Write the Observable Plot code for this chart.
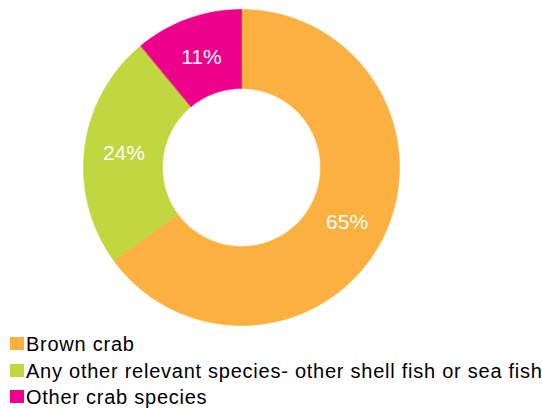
<!DOCTYPE html>
<html>
<head>
<meta charset="utf-8">
<script src="https://cdn.jsdelivr.net/npm/d3@7"></script>
<script src="https://cdn.jsdelivr.net/npm/@observablehq/plot@0.6"></script>
<style>
  html, body { margin: 0; padding: 0; background: #fff; }
  body { width: 542px; height: 409px; overflow: hidden; font-family: "Liberation Sans", Arial, sans-serif; }
  #chart svg { display: block; }
  #legend { margin-top: 1px; }
  .row { position: relative; height: 26.7px; font-size: 20px; line-height: 26.7px; color: #000; white-space: nowrap; letter-spacing: 0.75px; }
  .sw { position: absolute; left: 10px; top: 6px; width: 14px; height: 13px; }
  .lab { position: absolute; left: 26px; top: 0; }
</style>
</head>
<body>
<div id="chart"></div>
<div id="legend"></div>
<script>
const categories = ["Brown crab", "Any other relevant species- other shell fish or sea fish", "Other crab species"];
const values = [65, 24, 11];
const valueLabels = ["65%", "24%", "11%"];
const colors = ["#FBB040", "#C0D73F", "#EC008C"];

const innerRatio = 0.5;
const pie = d3.pie().sort(null).value(d => d.value);
const slices = pie(categories.map((c, i) => ({category: c, value: values[i], label: valueLabels[i]})));

// Ring polygons (geometry only) from the pie angles
const ringPts = [];
slices.forEach(s => {
  const n = Math.max(2, Math.ceil((s.endAngle - s.startAngle) / (Math.PI / 360)));
  for (let k = 0; k <= n; k++) {
    const a = s.startAngle + (s.endAngle - s.startAngle) * k / n;
    ringPts.push({category: s.data.category, x: Math.sin(a), y: Math.cos(a)});
  }
  for (let k = n; k >= 0; k--) {
    const a = s.startAngle + (s.endAngle - s.startAngle) * k / n;
    ringPts.push({category: s.data.category, x: innerRatio * Math.sin(a), y: innerRatio * Math.cos(a)});
  }
});
const labelPts = slices.map(s => {
  const a = (s.startAngle + s.endAngle) / 2;
  const r = (1 + innerRatio) / 2;
  return {label: s.data.label, x: r * Math.sin(a), y: r * Math.cos(a)};
});

const chart = Plot.plot({
  width: 542,
  height: 330,
  margin: 0,
  x: {domain: [-1, 1], range: [83, 399], axis: null},
  y: {domain: [-1, 1], range: [325, 9], axis: null},
  color: {domain: categories, range: colors},
  style: {fontFamily: '"Liberation Sans", Arial, sans-serif', background: "#fff"},
  marks: [
    Plot.line(ringPts, {x: "x", y: "y", z: "category", fill: "category", stroke: "category", strokeWidth: 0.6, curve: "linear-closed"}),
    Plot.text(labelPts, {x: "x", y: "y", text: "label", fill: "white", fontSize: 21, dy: 1})
  ]
});
document.getElementById("chart").appendChild(chart);

const legend = document.getElementById("legend");
categories.forEach((c, i) => {
  const row = document.createElement("div");
  row.className = "row";
  const sw = document.createElement("span");
  sw.className = "sw";
  sw.style.background = colors[i];
  const lab = document.createElement("span");
  lab.className = "lab";
  lab.textContent = c;
  row.appendChild(sw);
  row.appendChild(lab);
  legend.appendChild(row);
});
</script>
</body>
</html>
